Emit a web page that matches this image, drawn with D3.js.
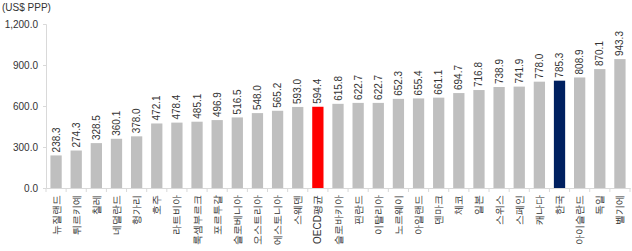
<!DOCTYPE html>
<html>
<head>
<meta charset="utf-8">
<script src="https://cdn.jsdelivr.net/npm/d3@7"></script>
<style>
  body { margin: 0; background: #fff; }
  text { font-family: "Liberation Sans", Arial, sans-serif; fill: #333; }
</style>
</head>
<body>
<div id="chart"></div>
<script>
const countries = ['뉴질랜드', '튀르키예', '칠레', '네덜란드', '헝가리', '호주', '라트비아', '룩셈부르크',
  '포르투갈', '슬로베니아', '오스트리아', '에스토니아', '스웨덴', 'OECD평균', '슬로바키아', '핀란드',
  '이탈리아', '노르웨이', '아일랜드', '덴마크', '체코', '일본', '스위스', '스페인', '캐나다', '한국',
  '아이슬란드', '독일', '벨기에'];
const values = [238.3, 274.3, 328.5, 360.1, 378.0, 472.1, 478.4, 485.1, 496.9, 516.5, 548.0, 565.2,
  593.0, 594.4, 615.8, 622.7, 622.7, 652.3, 655.4, 661.1, 694.7, 716.8, 738.9, 741.9, 778.0, 785.3,
  808.9, 870.1, 943.3];
const yTicks = [0, 300, 600, 900, 1200];
const highlight = { 'OECD평균': '#ff0000', '한국': '#002060' };

const data = countries.map((c, i) => ({ c, v: values[i] }));

const width = 632, height = 251;
const margin = { top: 24, right: 2, bottom: 63, left: 46 };
const innerWidth = width - margin.left - margin.right;
const innerHeight = height - margin.top - margin.bottom;

const svg = d3.select('#chart').append('svg')
  .attr('width', width).attr('height', height);

svg.append('text')
  .attr('x', 2).attr('y', 11)
  .attr('font-size', '10px')
  .text('(US$ PPP)');

const g = svg.append('g').attr('transform', `translate(${margin.left},${margin.top})`);

const x = d3.scaleBand().domain(countries).range([0, innerWidth]).paddingInner(0.44).paddingOuter(0.22);
const y = d3.scaleLinear().domain([0, 1200]).range([innerHeight, 0]);

g.selectAll('.bar').data(data).enter().append('rect')
  .attr('x', d => x(d.c))
  .attr('y', d => y(d.v))
  .attr('width', x.bandwidth())
  .attr('height', d => innerHeight - y(d.v))
  .attr('fill', d => highlight[d.c] || '#bfbfbf');

g.selectAll('.val').data(data).enter().append('text')
  .attr('transform', d => `translate(${x(d.c) + x.bandwidth() / 2 + 3.5},${y(d.v) - 3}) rotate(-90)`)
  .attr('font-size', '10px')
  .text(d => d.v.toFixed(1));

// y axis
const yAxis = g.append('g')
  .call(d3.axisLeft(y).tickValues(yTicks).tickSize(3).tickFormat(d3.format(',.1f')));
yAxis.select('.domain').attr('stroke', '#d9d9d9');
yAxis.selectAll('.tick line').attr('stroke', '#d9d9d9');
yAxis.selectAll('text').attr('font-size', '10px').attr('fill', '#333').attr('x', -8)
  .style('font-family', '"Liberation Sans", Arial, sans-serif');

// x axis
const xAxis = g.append('g').attr('transform', `translate(0,${innerHeight})`)
  .call(d3.axisBottom(x).tickSize(0).tickSizeOuter(0));
xAxis.select('.domain').attr('stroke', '#d9d9d9');
xAxis.selectAll('text')
  .attr('font-size', '10px').attr('fill', '#333')
  .style('font-family', '"Liberation Sans", Arial, sans-serif')
  .attr('transform', 'rotate(-90)')
  .attr('text-anchor', 'end')
  .attr('x', -7).attr('y', 0).attr('dy', '0.35em');

// separators between categories
const step = x.step();
g.selectAll('.sep').data(d3.range(countries.length + 1)).enter().append('line')
  .attr('x1', i => x(countries[0]) - step * 0.22 + i * step)
  .attr('x2', i => x(countries[0]) - step * 0.22 + i * step)
  .attr('y1', innerHeight).attr('y2', innerHeight + 4)
  .attr('stroke', '#d9d9d9');
</script>
</body>
</html>
